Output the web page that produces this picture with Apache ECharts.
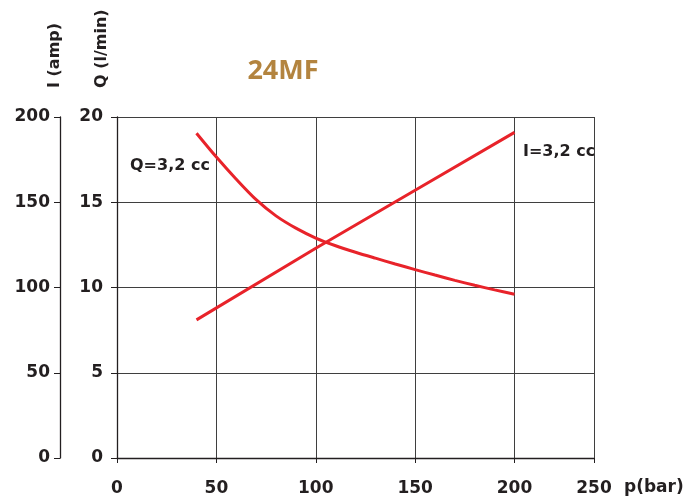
<!DOCTYPE html>
<html>
<head>
<meta charset="utf-8">
<script src="https://cdn.jsdelivr.net/npm/echarts@6/dist/echarts.min.js"></script>
<style>html,body{margin:0;padding:0;background:#fff}#c{width:699px;height:500px}</style>
</head>
<body>
<div id="c"></div>
<script>
// Data
var xTickLabels = ['0', '50', '100', '150', '200', '250'];
var qPressure = [40, 50, 60, 70, 80, 90, 100, 110, 120, 130, 140, 150, 160, 170, 180, 190, 200];
var qFlow = [19.05, 17.65, 16.35, 15.15, 14.2, 13.48, 12.9, 12.45, 12.07, 11.72, 11.38, 11.05, 10.73, 10.42, 10.13, 9.86, 9.6];
var iPressure = [40, 100, 150, 200];
var iCurrent = [81, 123, 157, 191];

var TXT = '#231f20';
var FONT = 'DejaVu Sans';
var qData = qPressure.map(function (p, i) { return [p, qFlow[i]]; });
var iData = iPressure.map(function (p, i) { return [p, iCurrent[i]]; });

var chart = echarts.init(document.getElementById('c'), null, { renderer: 'canvas' });
chart.setOption({
  animation: false,
  backgroundColor: '#fff',
  grid: { left: 117, right: 105, top: 117, bottom: 42 },
  xAxis: {
    type: 'value', min: 0, max: 240, interval: 50,
    axisLine: { show: true, lineStyle: { color: TXT, width: 1.3 } },
    axisTick: { show: true, inside: false, length: 5, lineStyle: { color: TXT } },
    axisLabel: {
      margin: 22, color: TXT, fontFamily: FONT, fontWeight: 'bold', fontSize: 17,
      formatter: function (v, idx) { return xTickLabels[idx] !== undefined ? xTickLabels[idx] : ''; }
    },
    splitLine: { show: true, lineStyle: { color: '#3f3f3f', width: 1 } }
  },
  yAxis: [
    {
      type: 'value', min: 0, max: 20, interval: 5, position: 'left',
      axisLine: { show: true, lineStyle: { color: TXT, width: 1.3 } },
      axisTick: { show: true, inside: false, length: 6, lineStyle: { color: TXT } },
      axisLabel: { margin: 14, color: TXT, fontFamily: FONT, fontWeight: 'bold', fontSize: 17 },
      splitLine: { show: true, lineStyle: { color: '#3f3f3f', width: 1 } }
    },
    {
      type: 'value', min: 0, max: 200, interval: 50, position: 'left', offset: 57,
      axisLine: { show: true, lineStyle: { color: TXT, width: 1.3 } },
      axisTick: { show: true, inside: false, length: 6, lineStyle: { color: TXT } },
      axisLabel: { margin: 10, color: TXT, fontFamily: FONT, fontWeight: 'bold', fontSize: 17 },
      splitLine: { show: false }
    }
  ],
  series: [
    {
      name: 'Q=3,2 cc', type: 'line', yAxisIndex: 0, data: qData, smooth: 0.3,
      showSymbol: false, lineStyle: { color: '#e8232a', width: 3 }
    },
    {
      name: 'I=3,2 cc', type: 'line', yAxisIndex: 1, data: iData, smooth: false,
      showSymbol: false, lineStyle: { color: '#e8232a', width: 3 }
    }
  ],
  graphic: [
    { type: 'text', x: 283, y: 71, style: { text: '24MF', fill: '#b3843f', font: 'bold 27px "Open Sans"', textAlign: 'center', textVerticalAlign: 'middle' } },
    { type: 'text', x: 55, y: 88, rotation: Math.PI / 2, style: { text: 'I (amp)', fill: TXT, font: 'bold 16px "' + FONT + '"', textAlign: 'left', textVerticalAlign: 'middle' } },
    { type: 'text', x: 102, y: 88, rotation: Math.PI / 2, style: { text: 'Q (l/min)', fill: TXT, font: 'bold 16px "' + FONT + '"', textAlign: 'left', textVerticalAlign: 'middle' } },
    { type: 'text', x: 624, y: 488, style: { text: 'p(bar)', fill: TXT, font: 'bold 17px "' + FONT + '"', textAlign: 'left', textVerticalAlign: 'middle' } },
    { type: 'text', x: 130, y: 166, style: { text: 'Q=3,2 cc', fill: TXT, font: 'bold 16px "' + FONT + '"', textAlign: 'left', textVerticalAlign: 'middle' } },
    { type: 'text', x: 523, y: 152, style: { text: 'I=3,2 cc', fill: TXT, font: 'bold 16px "' + FONT + '"', textAlign: 'left', textVerticalAlign: 'middle' } }
  ]
});
</script>
</body>
</html>
